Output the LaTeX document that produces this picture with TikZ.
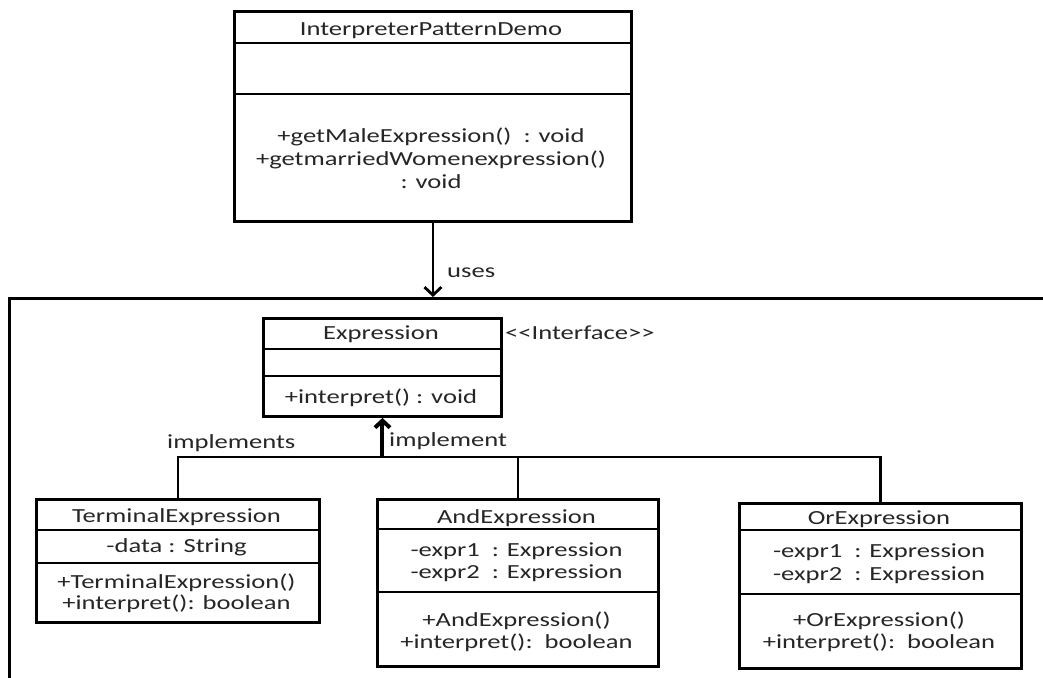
\documentclass[tikz,border=0pt]{standalone}
\usepackage{fontspec}
\setmainfont{Carlito}[FakeStretch=1.33]
\usetikzlibrary{arrows.meta}
\definecolor{ink}{HTML}{262626}
\begin{document}
\begin{tikzpicture}[x=1pt,y=-1pt,
  cls/.style={draw, line width=2.9pt, inner sep=0pt, anchor=north west},
  sep/.style={line width=2.6pt},
  txt/.style={inner sep=0pt, anchor=base, text=ink, font=\fontsize{20}{24}\selectfont},
  lbl/.style={inner sep=0pt, anchor=base west, text=ink, font=\fontsize{20}{24}\selectfont},
  usesarrow/.style={line width=2.8pt, -{Straight Barb[length=8pt,width=17pt]}},
  implarrow/.style={line width=4pt, -{Straight Barb[length=7pt,width=15pt]}},
  link/.style={line width=2.8pt}
]
\useasboundingbox (0,0) rectangle (1043,677);
\clip (0,0) rectangle (1043,677);
\fill[white] (0,0) rectangle (1043,677);

% client class
\node[cls, minimum width=397pt, minimum height=210pt] (demo) at (233,10) {};
\draw[sep] (demo.west |- 0,43) -- (demo.east |- 0,43);
\draw[sep] (demo.west |- 0,94) -- (demo.east |- 0,94);
\node[txt] (demoT) at (431,36) {InterpreterPatternDemo};
\node[txt] (demoM1) at (431,142) {+getMaleExpression()\ \ : void};
\node[txt] (demoM2) at (431,165) {+getmarriedWomenexpression()};
\node[txt] (demoM3) at (431,188) {: void};

% package frame
\node[cls, minimum width=1100pt, minimum height=450pt] (pkg) at (8,297) {};

% uses association
\draw[usesarrow] (demo.south) -- (demo.south |- pkg.north);
\node[lbl] (usesL) at (447,277) {uses};

% interface
\node[cls, minimum width=238pt, minimum height=98pt] (expr) at (262,317) {};
\draw[sep] (expr.west |- 0,349) -- (expr.east |- 0,349);
\draw[sep] (expr.west |- 0,376) -- (expr.east |- 0,376);
\node[txt] (exprT) at (381,339) {Expression};
\node[txt] (exprM) at (381,403) {+interpret() : void};
\node[lbl] (ifaceL) at (505,339) {<{}<Interface>{}>};

% TerminalExpression
\node[cls, minimum width=283pt, minimum height=123pt] (term) at (35,498) {};
\draw[sep] (term.west |- 0,530) -- (term.east |- 0,530);
\draw[sep] (term.west |- 0,563) -- (term.east |- 0,563);
\node[txt] (termT) at (176.5,522) {TerminalExpression};
\node[txt] (termA) at (176.5,552) {-data : String};
\node[txt] (termM1) at (176.5,588) {+TerminalExpression()};
\node[txt] (termM2) at (176.5,609) {+interpret(): boolean};

% AndExpression
\node[cls, minimum width=281pt, minimum height=167pt] (andx) at (376,498) {};
\draw[sep] (andx.west |- 0,529) -- (andx.east |- 0,529);
\draw[sep] (andx.west |- 0,592) -- (andx.east |- 0,592);
\node[txt] (andT) at (516.5,523) {AndExpression};
\node[txt] (andA1) at (516.5,556) {-expr1\ \ : Expression};
\node[txt] (andA2) at (516.5,578) {-expr2\ \ : Expression};
\node[txt] (andM1) at (516.5,626) {+AndExpression()};
\node[txt] (andM2) at (516.5,648) {+interpret():\ \ boolean};

% OrExpression
\node[cls, minimum width=282pt, minimum height=165pt] (orx) at (738,502) {};
\draw[sep] (orx.west |- 0,530) -- (orx.east |- 0,530);
\draw[sep] (orx.west |- 0,594) -- (orx.east |- 0,594);
\node[txt] (orT) at (879,524) {OrExpression};
\node[txt] (orA1) at (879,557) {-expr1\ \ : Expression};
\node[txt] (orA2) at (879,580) {-expr2\ \ : Expression};
\node[txt] (orM1) at (879,626) {+OrExpression()};
\node[txt] (orM2) at (879,648) {+interpret():\ \ boolean};

% realization tree
\coordinate (hub) at (expr.south |- 0,457);
\draw[link] (term.north) |- (hub) -| (andx.north);
\draw[link] (hub) -| (orx.north);
\draw[implarrow] (hub) -- (expr.south);
\node[lbl] (implsL) at (167,448) {implements};
\node[lbl] (implL) at (389,446) {implement};
\end{tikzpicture}
\end{document}
